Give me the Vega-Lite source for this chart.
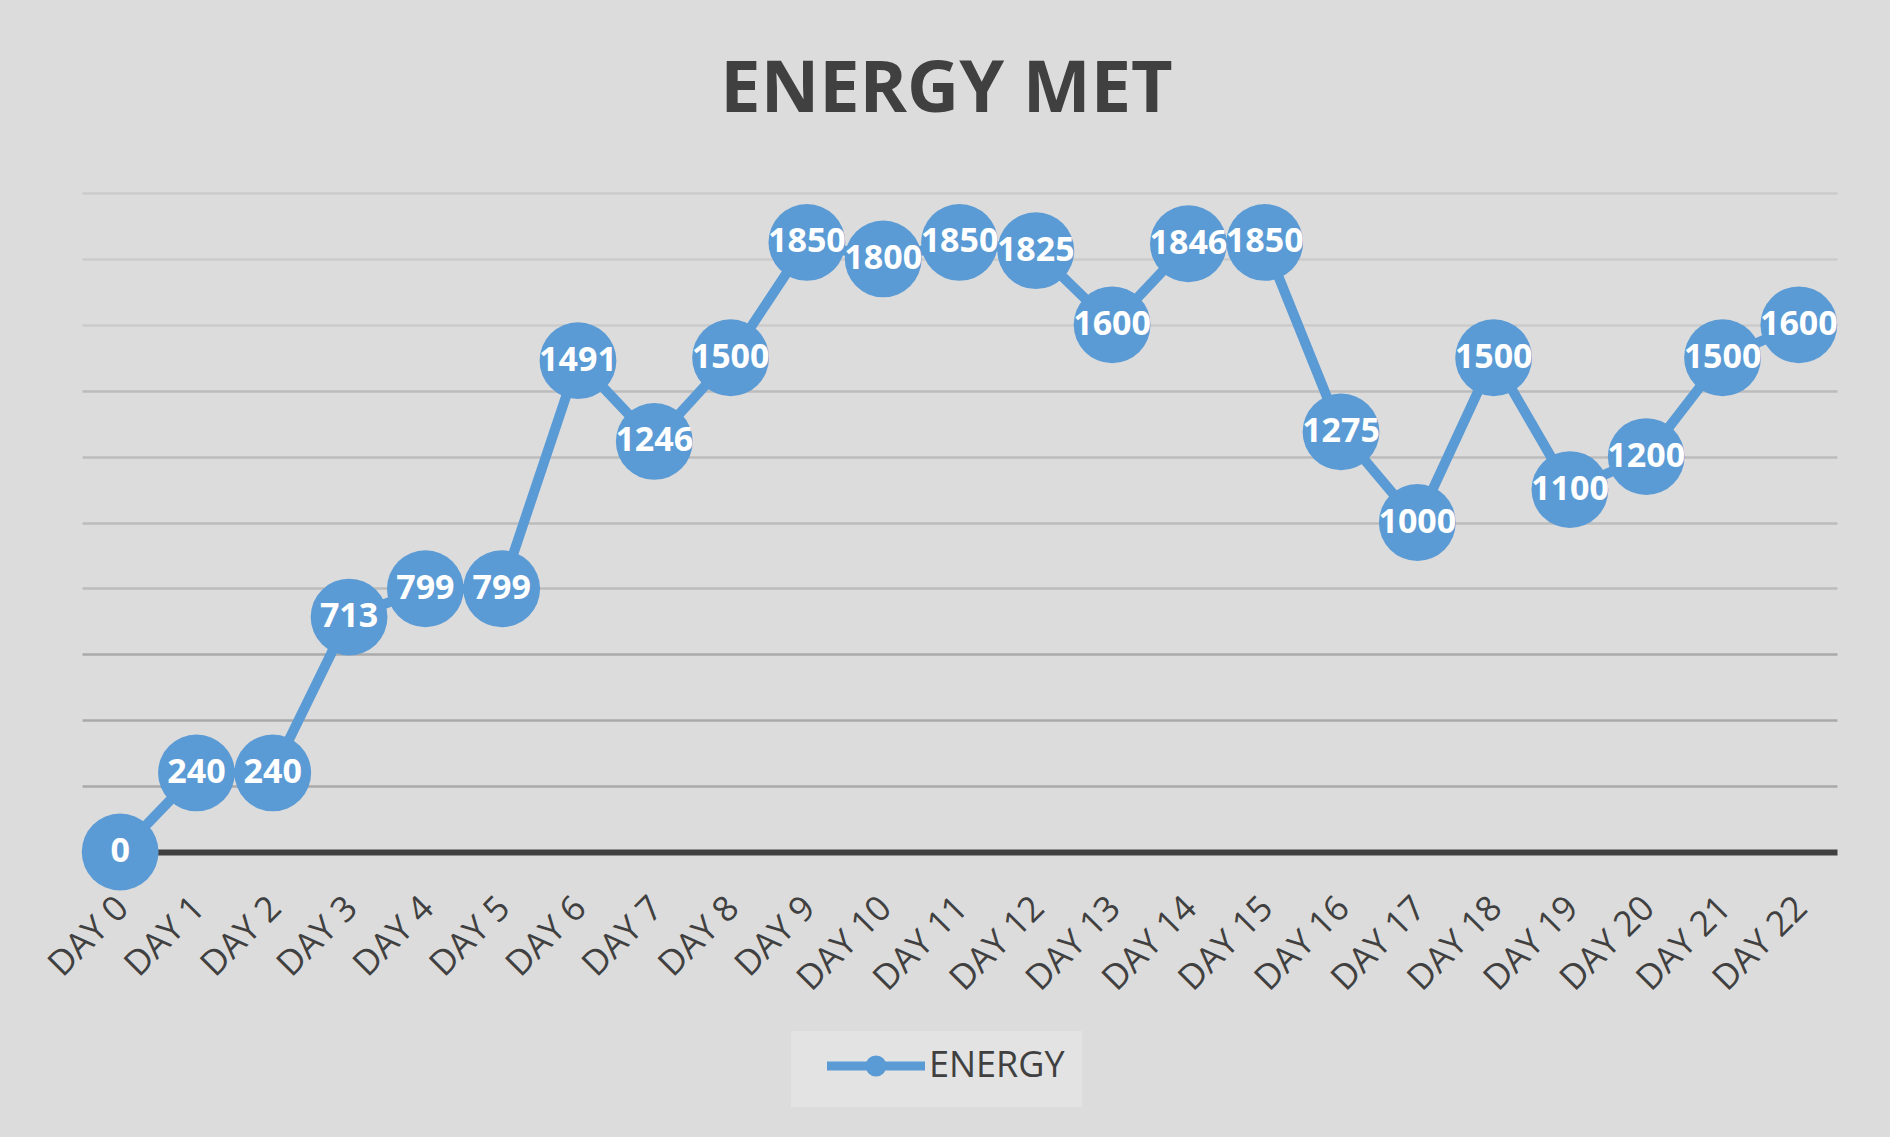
{
  "$schema": "https://vega.github.io/schema/vega-lite/v6.json",
  "autosize": {"type": "none"},
  "width": 1755,
  "height": 659,
  "padding": {"left": 82, "top": 193, "right": 53, "bottom": 285},
  "background": "#dcdcdc",
  "title": {
    "text": "ENERGY MET",
    "font": "Open Sans",
    "fontSize": 72,
    "fontWeight": "bold",
    "color": "#404040",
    "anchor": "middle",
    "baseline": "alphabetic",
    "offset": 80,
    "dx": -13,
    "dy": 71
  },
  "data": {
    "values": [
      {"day": "DAY 0", "energy": 0},
      {"day": "DAY 1", "energy": 240},
      {"day": "DAY 2", "energy": 240},
      {"day": "DAY 3", "energy": 713},
      {"day": "DAY 4", "energy": 799},
      {"day": "DAY 5", "energy": 799},
      {"day": "DAY 6", "energy": 1491},
      {"day": "DAY 7", "energy": 1246},
      {"day": "DAY 8", "energy": 1500},
      {"day": "DAY 9", "energy": 1850},
      {"day": "DAY 10", "energy": 1800},
      {"day": "DAY 11", "energy": 1850},
      {"day": "DAY 12", "energy": 1825},
      {"day": "DAY 13", "energy": 1600},
      {"day": "DAY 14", "energy": 1846},
      {"day": "DAY 15", "energy": 1850},
      {"day": "DAY 16", "energy": 1275},
      {"day": "DAY 17", "energy": 1000},
      {"day": "DAY 18", "energy": 1500},
      {"day": "DAY 19", "energy": 1100},
      {"day": "DAY 20", "energy": 1200},
      {"day": "DAY 21", "energy": 1500},
      {"day": "DAY 22", "energy": 1600}
    ]
  },
  "encoding": {
    "x": {
      "field": "day",
      "type": "ordinal",
      "sort": null,
      "scale": {"type": "point", "padding": 0.5},
      "axis": {
        "title": null,
        "labelAngle": -45,
        "labelAlign": "right",
        "labelBaseline": "middle",
        "labelFont": "Open Sans",
        "labelFontSize": 35,
        "labelColor": "#404040",
        "labelPadding": 50,
        "labelOffset": 2,
        "ticks": false,
        "domainColor": "#404040",
        "domainWidth": 6,
        "grid": false,
        "zindex": 0
      }
    },
    "y": {
      "field": "energy",
      "type": "quantitative",
      "scale": {"domain": [0, 2000], "nice": false},
      "axis": {
        "title": null,
        "labels": false,
        "ticks": false,
        "domain": false,
        "values": [200, 400, 600, 800, 1000, 1200, 1400, 1600, 1800, 2000],
        "grid": true,
        "gridWidth": 2.5,
        "gridColor": {
          "condition": [
            {"test": "datum.value >= 1600", "value": "#cbcbcb"},
            {"test": "datum.value >= 800", "value": "#bcbcbc"}
          ],
          "value": "#aaaaaa"
        },
        "zindex": 0
      }
    }
  },
  "layer": [
    {
      "mark": {"type": "line", "color": "#5b9bd5", "strokeWidth": 10, "strokeCap": "round", "strokeJoin": "round"}
    },
    {
      "mark": {"type": "point", "filled": true, "size": 5900, "opacity": 1},
      "encoding": {
        "color": {
          "datum": "ENERGY",
          "scale": {"range": ["#5b9bd5"]},
          "legend": {
            "title": null,
            "orient": "none",
            "legendX": 709,
            "legendY": 838,
            "fillColor": "#e3e3e3",
            "padding": 17,
            "symbolType": "M-4.9,0L4.9,0M0.6,0A0.6,0.6,0,1,1,-0.6,0A0.6,0.6,0,1,1,0.6,0Z",
            "symbolSize": 400,
            "symbolOffset": 50,
            "symbolFillColor": "#5b9bd5",
            "symbolStrokeColor": "#5b9bd5",
            "symbolStrokeWidth": 9,
            "symbolOpacity": 1,
            "labelFont": "Open Sans",
            "labelFontSize": 36,
            "labelColor": "#404040",
            "labelOffset": 35,
            "labelExpr": "datum.label + '\u00a0\u00a0'"
          }
        }
      }
    },
    {
      "mark": {
        "type": "text",
        "font": "Open Sans",
        "fontSize": 34,
        "fontWeight": "bold",
        "color": "white",
        "align": "center",
        "baseline": "middle"
      },
      "encoding": {
        "text": {"field": "energy", "type": "quantitative"}
      }
    }
  ]
}
